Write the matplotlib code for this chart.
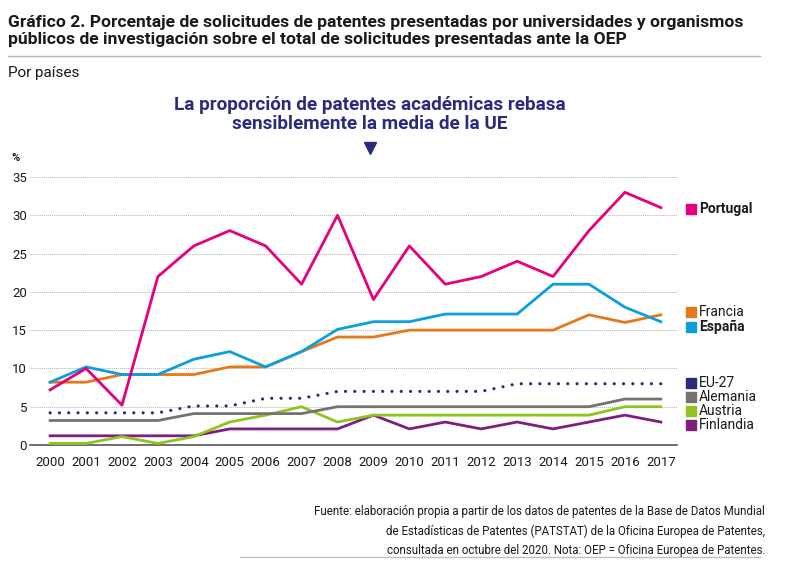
import numpy as np
import matplotlib
matplotlib.use("Agg")
import matplotlib.pyplot as plt
from matplotlib.lines import Line2D

plt.rcParams['font.family'] = ['Roboto', 'DejaVu Sans']

years = list(range(2000, 2018))

portugal = [7.2, 10, 5.2, 22, 26, 28, 26, 21, 30, 19, 26, 21, 22, 24, 22, 28, 33, 31]
espana = [8.2, 10.2, 9.2, 9.2, 11.2, 12.2, 10.2, 12.2, 15.1, 16.1, 16.1, 17.1, 17.1, 17.1, 21, 21, 18, 16.1]
francia = [8.2, 8.2, 9.2, 9.2, 9.2, 10.2, 10.2, 12.2, 14.1, 14.1, 15, 15, 15, 15, 15, 17, 16, 17]
eu27 = [4.2, 4.2, 4.2, 4.2, 5.1, 5.1, 6.1, 6.1, 7, 7, 7, 7, 7, 8, 8, 8, 8, 8]
alemania = [3.2, 3.2, 3.2, 3.2, 4.1, 4.1, 4.1, 4.1, 5, 5, 5, 5, 5, 5, 5, 5, 6, 6]
austria = [0.2, 0.2, 1.1, 0.2, 1.1, 3, 3.9, 5, 3, 3.9, 3.9, 3.9, 3.9, 3.9, 3.9, 3.9, 5, 5]
finlandia = [1.2, 1.2, 1.2, 1.2, 1.2, 2.1, 2.1, 2.1, 2.1, 3.9, 2.1, 3, 2.1, 3, 2.1, 3, 3.9, 3]

c_pt = '#e5007d'
c_es = '#0b9fe0'
c_fr = '#e5781a'
c_eu = '#2b2a7c'
c_de = '#747273'
c_at = '#8fc31f'
c_fi = '#7d1f7d'

fig = plt.figure(figsize=(8, 5.63), dpi=100)
ax = fig.add_axes([30/800, 1-445/563, (677-30)/800, (445-177)/563])

ax.set_xlim(1999.44, 2017.45)
ax.set_ylim(0, 35)

lw = 2.0
ax.plot(years, finlandia, color=c_fi, lw=lw, zorder=3, clip_on=False)
ax.plot(years, austria, color=c_at, lw=lw, zorder=3, clip_on=False)
ax.plot(years, alemania, color=c_de, lw=lw, zorder=3, clip_on=False)
ax.plot(years, eu27, color=c_eu, lw=2.3, linestyle=(0, (0.01, 2.9)),
        dash_capstyle='round', zorder=4, clip_on=False)
ax.plot(years, francia, color=c_fr, lw=lw, zorder=3, clip_on=False)
ax.plot(years, espana, color=c_es, lw=lw, zorder=4, clip_on=False)
ax.plot(years, portugal, color=c_pt, lw=lw, zorder=5, clip_on=False)

ax.set_yticks(range(0, 40, 5))
ax.set_xticks(years)
ax.tick_params(length=0, labelsize=9.5, colors='#1a1a1a')
ax.tick_params(axis='x', pad=8)
ax.tick_params(axis='y', pad=2)
ax.grid(axis='y', color='#b0b0b0', linestyle=(0, (1, 1)), lw=0.7)
ax.grid(axis='x', visible=False)
for s in ['top', 'right', 'left']:
    ax.spines[s].set_visible(False)
ax.spines['bottom'].set_color('#555555')
ax.spines['bottom'].set_linewidth(1.2)

# etiquetas de la leyenda a la derecha
legend_items = [
    ('Portugal', c_pt, 209, 'bold'),
    ('Francia', c_fr, 312, 'normal'),
    ('España', c_es, 327, 'bold'),
    ('EU-27', c_eu, 383, 'normal'),
    ('Alemania', c_de, 397, 'normal'),
    ('Austria', c_at, 411, 'normal'),
    ('Finlandia', c_fi, 425, 'normal'),
]
for name, col, ypix, wt in legend_items:
    fy = 1 - ypix/563
    fig.patches.append(plt.Rectangle((686/800, fy - 5/563), 10/800, 10/563,
                                     transform=fig.transFigure, color=col))
    fig.text(699/800, fy, name, fontsize=10, fontweight=wt, va='center',
             ha='left', color='#1a1a1a')

# títulos
fig.text(8/800, 1-31/563, 'Gráfico 2. Porcentaje de solicitudes de patentes presentadas por universidades y organismos\n'
         'públicos de investigación sobre el total de solicitudes presentadas ante la OEP',
         fontsize=12.6, fontweight='bold', va='center', ha='left', color='#1a1a1a',
         linespacing=1.12)
fig.add_artist(Line2D([8/800, 760/800], [1-56/563, 1-56/563], color='#b5b5b5', lw=1))
fig.text(8/800, 1-73/563, 'Por países', fontsize=11, va='center', ha='left', color='#1a1a1a')
fig.text(370/800, 1-114.5/563, 'La proporción de patentes académicas rebasa\nsensiblemente la media de la UE',
         fontsize=13.6, fontweight='bold', va='center', ha='center', color=c_eu,
         linespacing=1.1)
fig.add_artist(Line2D([370/800], [1-148/563], marker='v', markersize=9,
                      color=c_eu, linestyle='none'))
fig.text(11/800, 1-158/563, '%', fontsize=8, fontweight='bold', va='center', ha='left', color='#1a1a1a')

fig.text(765/800, 1-531/563,
         'Fuente: elaboración propia a partir de los datos de patentes de la Base de Datos Mundial\n'
         'de Estadísticas de Patentes (PATSTAT) de la Oficina Europea de Patentes,\n'
         'consultada en octubre del 2020. Nota: OEP = Oficina Europea de Patentes.',
         fontsize=8.3, va='center', ha='right', color='#1a1a1a', linespacing=1.57)
fig.add_artist(Line2D([240/800, 760/800], [1-557/563, 1-557/563], color='#c0c0c0', lw=1))

fig.savefig('out.png', dpi=100)
